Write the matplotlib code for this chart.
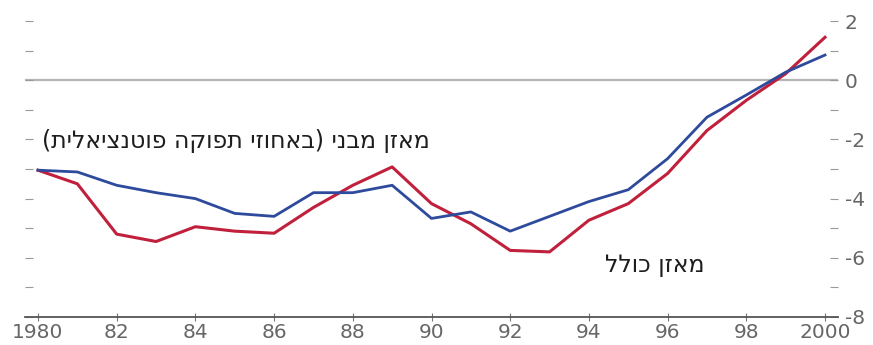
import matplotlib
matplotlib.use("Agg")
import matplotlib.pyplot as plt
from matplotlib.ticker import MultipleLocator, FixedLocator

plt.rcParams['font.family'] = ['DejaVu Sans']
plt.rcParams['axes.unicode_minus'] = False

years = list(range(1980, 2001))
structural = [-3.04, -3.1, -3.55, -3.8, -4.0, -4.5, -4.6, -3.8, -3.8, -3.55,
              -4.67, -4.45, -5.1, -4.6, -4.1, -3.7, -2.65, -1.25, -0.5, 0.27, 0.85]
total = [-3.04, -3.5, -5.2, -5.45, -4.95, -5.1, -5.17, -4.3, -3.55, -2.93,
         -4.17, -4.85, -5.75, -5.8, -4.73, -4.17, -3.15, -1.7, -0.68, 0.22, 1.45]
x_ticks = [1980, 1982, 1984, 1986, 1988, 1990, 1992, 1994, 1996, 1998, 2000]
x_labels = ['1980', '82', '84', '86', '88', '90', '92', '94', '96', '98', '2000']
y_ticks = [2, 0, -2, -4, -6, -8]
label_structural = 'מאזן מבני (באחוזי תפוקה פוטנציאלית)'
label_total = 'מאזן כולל'


def visual(s):
    """Right-to-left text laid out in display order for a left-to-right renderer."""
    return s[::-1].translate(str.maketrans('()', ')('))


fig = plt.figure(figsize=(8.73, 3.45), dpi=100)
ax = fig.add_axes([25 / 873, 28 / 345, (838 - 25) / 873, (317 - 21) / 345])

ax.axhline(0, color='#b4b4b4', lw=1.6, zorder=1)
ax.plot(years, structural, color='#2d4a9c', lw=2.0, zorder=3)
ax.plot(years, total, color='#c0203c', lw=2.2, zorder=2)

ax.set_xlim(1979.67, 2000.33)
ax.set_ylim(-8, 2)

for s in ['top', 'left', 'right']:
    ax.spines[s].set_visible(False)
ax.spines['bottom'].set_color('#555555')
ax.spines['bottom'].set_linewidth(1.3)

ax.xaxis.set_major_locator(FixedLocator(x_ticks))
ax.set_xticklabels(x_labels)
ax.tick_params(axis='x', direction='inout', length=6, width=0.8, color='#777777',
               labelsize=14.5, labelcolor='#666666', pad=1)

ax.yaxis.set_major_locator(FixedLocator(y_ticks))
ax.yaxis.set_minor_locator(MultipleLocator(1))
ax.yaxis.tick_right()
ax.tick_params(axis='y', which='both', direction='in', left=True, right=True,
               length=6, width=0.8, color='#999999', labelleft=False,
               labelright=True, labelsize=14.5, labelcolor='#666666', pad=5)
ax.set_yticklabels([str(v) for v in y_ticks])

ax.text(1989.96, -2.06, visual(label_structural), ha='right', va='center',
        fontsize=17, color='#1e1e1e')
ax.text(1996.95, -6.25, visual(label_total), ha='right', va='center',
        fontsize=17, color='#1e1e1e')

fig.savefig('out.png', dpi=100)
